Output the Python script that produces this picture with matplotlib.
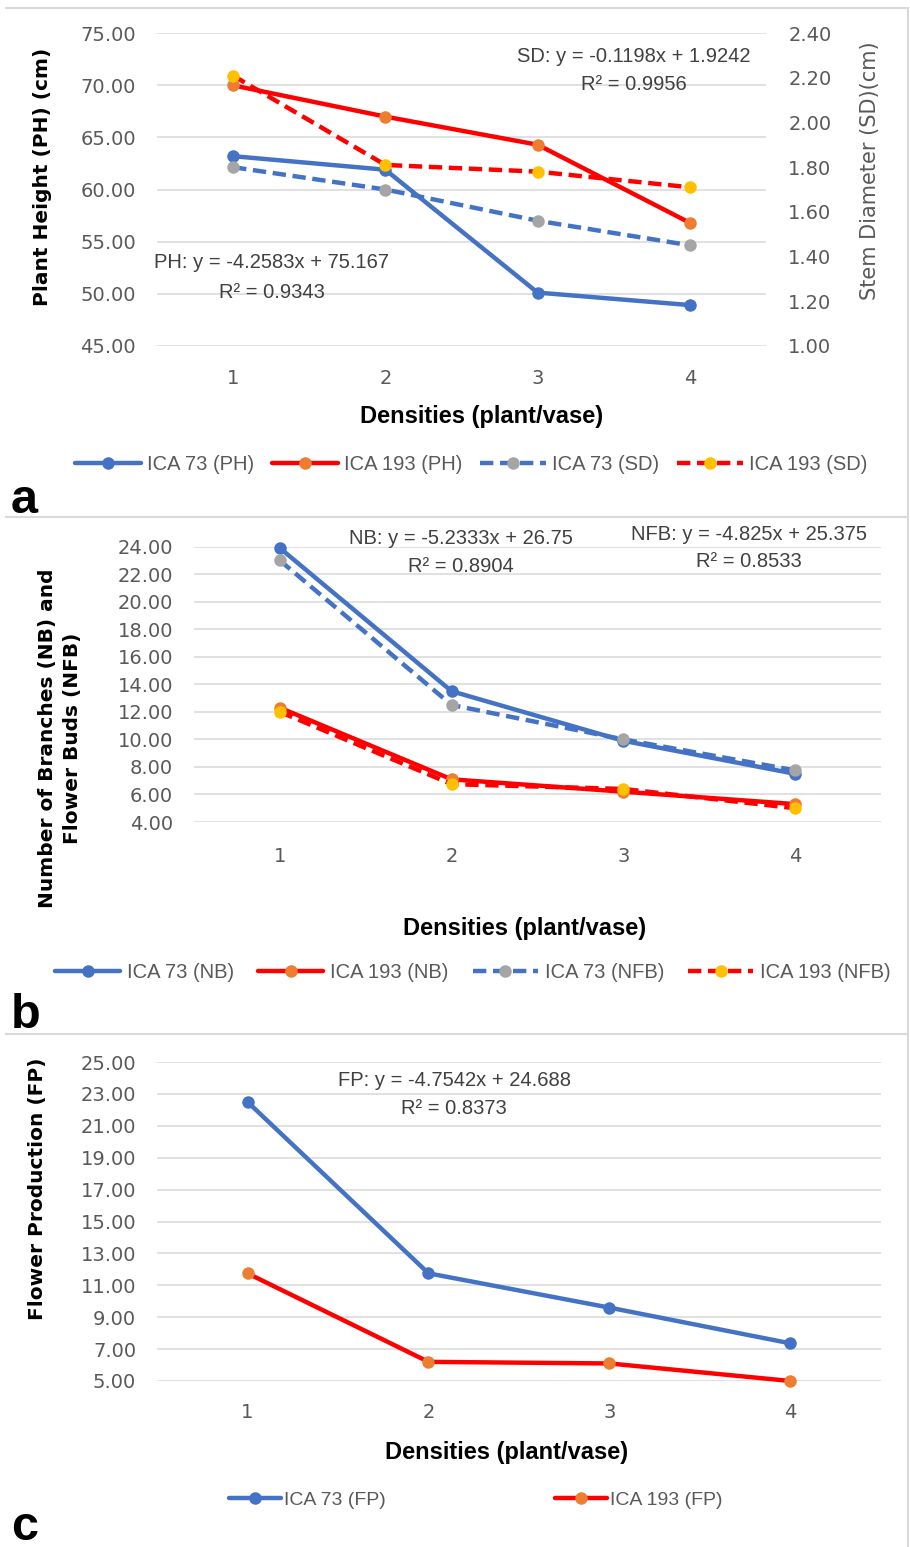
import matplotlib
matplotlib.use('Agg')
import matplotlib.pyplot as plt
from matplotlib.lines import Line2D

plt.rcParams['font.family'] = ['DejaVu Sans']

# ---------------- data ----------------
densities = [1, 2, 3, 4]
density_labels = ['1', '2', '3', '4']

ph_ica73 = [63.2, 61.9, 50.1, 48.9]
ph_ica193 = [70.0, 67.0, 64.3, 56.8]
sd_ica73 = [1.80, 1.70, 1.56, 1.45]
sd_ica193 = [2.21, 1.81, 1.78, 1.71]

nb_ica73 = [23.9, 13.5, 9.9, 7.5]
nb_ica193 = [12.3, 7.1, 6.2, 5.3]
nfb_ica73 = [23.0, 12.5, 10.0, 7.75]
nfb_ica193 = [12.0, 6.75, 6.4, 5.0]

fp_ica73 = [22.5, 11.75, 9.6, 7.36]
fp_ica193 = [11.75, 6.2, 6.1, 5.0]

ph_ticks = [45, 50, 55, 60, 65, 70, 75]
sd_ticks = [1.0, 1.2, 1.4, 1.6, 1.8, 2.0, 2.2, 2.4]
nb_ticks = [4, 6, 8, 10, 12, 14, 16, 18, 20, 22, 24]
fp_ticks = [5, 7, 9, 11, 13, 15, 17, 19, 21, 23, 25]

labels_a = ['ICA 73 (PH)', 'ICA 193 (PH)', 'ICA 73 (SD)', 'ICA 193 (SD)']
labels_b = ['ICA 73 (NB)', 'ICA 193 (NB)', 'ICA 73 (NFB)', 'ICA 193 (NFB)']
labels_c = ['ICA 73 (FP)', 'ICA 193 (FP)']

eq_sd = ['SD: y = -0.1198x + 1.9242', 'R² = 0.9956']
eq_ph = ['PH: y = -4.2583x + 75.167', 'R² = 0.9343']
eq_nb = ['NB: y = -5.2333x + 26.75', 'R² = 0.8904']
eq_nfb = ['NFB: y = -4.825x + 25.375', 'R² = 0.8533']
eq_fp = ['FP: y = -4.7542x + 24.688', 'R² = 0.8373']

# ---------------- style ----------------
BLUE = '#4472C4'
RED = '#FF0000'
ORANGE = '#ED7D31'
GRAY = '#A5A5A5'
YELLOW = '#FFC000'
TICKC = '#595959'
TXTC = '#404040'
GRID = '#D9D9D9'
LW = 3.2
MS = 9
DASH = (0, (3, 1.5))
TFONT = ['Liberation Sans', 'DejaVu Sans']

W, H = 910, 1547
fig = plt.figure(figsize=(W / 100, H / 100), dpi=100)


def rect(x0, y0, x1, y1):
    return [x0 / W, 1 - y1 / H, (x1 - x0) / W, (y1 - y0) / H]


def fx(x):
    return x / W


def fy(y):
    return 1 - y / H


def style(ax, ylim, yticks, ypad=15, xpad=17):
    ax.set_xlim(0.5, 4.5)
    ax.set_xticks(densities)
    ax.set_xticklabels(density_labels)
    ax.set_ylim(*ylim)
    ax.set_yticks(yticks)
    ax.set_yticklabels(['%.2f' % t for t in yticks])
    for s in ax.spines.values():
        s.set_visible(False)
    ax.tick_params(axis='both', length=0, labelsize=14, labelcolor=TICKC)
    ax.tick_params(axis='y', pad=ypad)
    ax.tick_params(axis='x', pad=xpad)
    ax.grid(axis='y', color=GRID, lw=1.1)
    ax.set_axisbelow(True)


def series(ax, y, color, mcolor, ls='-'):
    return ax.plot(densities, y, color=color, lw=LW, ls=ls, marker='o', ms=MS,
                   markerfacecolor=mcolor, markeredgecolor=mcolor, markeredgewidth=0,
                   solid_capstyle='round', dash_capstyle='butt', clip_on=False)[0]


def legend(handles, labels, cx, cy, fs, handle_px, pad_px, col_px):
    fpx = fs * 100 / 72
    leg = fig.legend(handles, labels, loc='center', bbox_to_anchor=(fx(cx), fy(cy)),
                     bbox_transform=fig.transFigure, ncol=len(handles), frameon=False,
                     prop={'family': TFONT, 'size': fs}, handlelength=handle_px / fpx,
                     handletextpad=pad_px / fpx, columnspacing=col_px / fpx,
                     borderpad=0, borderaxespad=0, numpoints=1)
    for t in leg.get_texts():
        t.set_color(TICKC)
    return leg


def eq(lines, cx, y1, y2, fs=14.5):
    fig.text(fx(cx), fy(y1), lines[0], ha='center', va='center', fontsize=fs,
             color=TXTC, family=TFONT)
    fig.text(fx(cx), fy(y2), lines[1], ha='center', va='center', fontsize=fs,
             color=TXTC, family=TFONT)


def xlabel(cx, cy):
    fig.text(fx(cx), fy(cy), 'Densities (plant/vase)', ha='center', va='center',
             fontsize=17, fontweight='bold', family=TFONT, color='black')


# ---------------- panel a ----------------
axa = fig.add_axes(rect(157, 33.3, 766, 345.7))
style(axa, (45, 75), ph_ticks, ypad=15, xpad=17)
h1 = series(axa, ph_ica73, BLUE, BLUE)
h2 = series(axa, ph_ica193, RED, ORANGE)
axa2 = axa.twinx()
axa2.set_ylim(1.0, 2.4)
axa2.set_yticks(sd_ticks)
axa2.set_yticklabels(['%.2f' % t for t in sd_ticks])
for s in axa2.spines.values():
    s.set_visible(False)
axa2.tick_params(axis='y', length=0, labelsize=14, labelcolor=TICKC, pad=16)
h3 = series(axa2, sd_ica73, BLUE, GRAY, DASH)
h4 = series(axa2, sd_ica193, RED, YELLOW, DASH)

fig.text(fx(43), fy(177), 'Plant Height (PH) (cm)', rotation=90, ha='center', va='center',
         fontsize=14.5, fontweight='bold', color='black')
fig.text(fx(870), fy(171), 'Stem Diameter (SD)(cm)', rotation=90, ha='center', va='center',
         fontsize=15, color=TICKC)
xlabel(482, 416)
eq(eq_sd, 634, 56, 84)
eq(eq_ph, 272, 263, 292)
legend([h1, h2, h3, h4], labels_a, 471, 465, 14.5, 66, 6, 18)

# ---------------- panel b ----------------
axb = fig.add_axes(rect(194, 546.7, 881, 822))
style(axb, (4, 24), nb_ticks, ypad=15, xpad=18)
g1 = series(axb, nb_ica73, BLUE, BLUE)
g2 = series(axb, nb_ica193, RED, ORANGE)
g3 = series(axb, nfb_ica73, BLUE, GRAY, DASH)
g4 = series(axb, nfb_ica193, RED, YELLOW, DASH)

fig.text(fx(60), fy(738), 'Number of Branches (NB) and\nFlower Buds (NFB)', rotation=90,
         ha='center', va='center', multialignment='center', linespacing=1.4,
         fontsize=14.5, fontweight='bold', color='black')
xlabel(525, 928)
eq(eq_nb, 461, 538, 567)
eq(eq_nfb, 749, 535, 561)
legend([g1, g2, g3, g4], labels_b, 473, 973, 14.5, 65, 7, 24)

# ---------------- panel c ----------------
axc = fig.add_axes(rect(157, 1062, 881, 1381))
style(axc, (5, 25), fp_ticks, ypad=15, xpad=16)
k1 = series(axc, fp_ica73, BLUE, BLUE)
k2 = series(axc, fp_ica193, RED, ORANGE)

fig.text(fx(38), fy(1189), 'Flower Production (FP)', rotation=90, ha='center', va='center',
         fontsize=14.5, fontweight='bold', color='black')
xlabel(507, 1452)
eq(eq_fp, 454, 1081, 1109)
legend([k1, k2], labels_c, 476, 1500, 14, 52, 3, 169)

# ---------------- panel letters & borders ----------------
for letter, yb in (('a', 513), ('b', 1028), ('c', 1540)):
    fig.text(fx(11), fy(yb), letter, ha='left', va='baseline', fontsize=35,
             fontweight='bold', family=TFONT, color='black')

for yl in (8, 517, 1034):
    fig.add_artist(Line2D([fx(6), fx(908)], [fy(yl), fy(yl)], transform=fig.transFigure,
                          color='#D9D9D9', lw=1.5))
fig.add_artist(Line2D([fx(908), fx(908)], [fy(8), fy(1547)], transform=fig.transFigure,
                      color='#D9D9D9', lw=1.5))

fig.savefig('out.png', dpi=100)
